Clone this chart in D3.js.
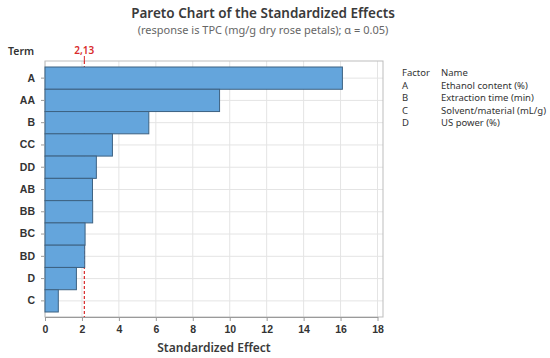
<!DOCTYPE html>
<html>
<head>
<meta charset="utf-8">
<script src="https://cdn.jsdelivr.net/npm/d3@7"></script>
<style>
  body { margin: 0; background: #fff; }
  svg { font-family: "Noto Sans", "Open Sans", sans-serif; }
</style>
</head>
<body>
<div id="chart"></div>
<script>
// Terms in Pareto order and their standardized effects
const terms = ['A', 'AA', 'B', 'CC', 'DD', 'AB', 'BB', 'BC', 'BD', 'D', 'C'];
const effects = [16.1, 9.45, 5.62, 3.65, 2.78, 2.57, 2.58, 2.17, 2.15, 1.70, 0.72];
const xTicks = [0, 2, 4, 6, 8, 10, 12, 14, 16, 18];
const critical = 2.13;
const factors = ['A', 'B', 'C', 'D'];
const factorNames = ['Ethanol content (%)', 'Extraction time (min)', 'Solvent/material (mL/g)', 'US power (%)'];

const W = 550, H = 358;
const margin = { top: 61, right: 167, bottom: 41, left: 45 };
const plotW = W - margin.left - margin.right;
const plotH = H - margin.top - margin.bottom;

const svg = d3.select('#chart').append('svg')
    .attr('width', W)
    .attr('height', H);

// Titles
svg.append('text')
    .attr('x', 263).attr('y', 18)
    .attr('text-anchor', 'middle')
    .style('font-size', '13.5px')
    .style('font-weight', '600')
    .style('fill', '#3a3a3a')
    .text('Pareto Chart of the Standardized Effects');
svg.append('text')
    .attr('x', 263).attr('y', 34)
    .attr('text-anchor', 'middle')
    .style('font-size', '11px')
    .style('fill', '#666')
    .text('(response is TPC (mg/g dry rose petals); \u03b1 = 0.05)');

const g = svg.append('g').attr('transform', `translate(${margin.left},${margin.top})`);

// x maps 0..18 onto the axis; frame extends a bit past 18
const x = d3.scaleLinear().domain([0, 18]).range([0, 332.5]);
const y = d3.scaleBand().domain(terms).range([6, plotH - 5]).padding(0);

// Grid
g.selectAll('.vgrid').data(xTicks).enter().append('line')
    .attr('x1', d => x(d)).attr('x2', d => x(d))
    .attr('y1', 0).attr('y2', plotH)
    .attr('stroke', '#e4e4e4').attr('stroke-width', 1);
g.selectAll('.hgrid').data(terms).enter().append('line')
    .attr('x1', 0).attr('x2', plotW)
    .attr('y1', d => y(d) + y.bandwidth() / 2).attr('y2', d => y(d) + y.bandwidth() / 2)
    .attr('stroke', '#e4e4e4').attr('stroke-width', 1);

// Frame
g.append('rect')
    .attr('x', 0).attr('y', 0)
    .attr('width', plotW).attr('height', plotH)
    .attr('fill', 'none')
    .attr('stroke', '#bdbdbd');

// Critical line (behind the bars)
g.append('line')
    .attr('x1', x(critical)).attr('x2', x(critical))
    .attr('y1', 0).attr('y2', plotH)
    .attr('stroke', '#d92b2b')
    .attr('stroke-width', 1.2)
    .attr('stroke-dasharray', '3,2');
g.append('line')
    .attr('x1', x(critical)).attr('x2', x(critical))
    .attr('y1', -5).attr('y2', 0)
    .attr('stroke', '#d92b2b');
g.append('text')
    .attr('x', x(critical)).attr('y', -7)
    .attr('text-anchor', 'middle')
    .style('font-size', '10px')
    .style('font-weight', '600')
    .style('fill', '#d92b2b')
    .text('2,13');

// Bars
g.selectAll('.bar').data(terms).enter().append('rect')
    .attr('x', x(0))
    .attr('y', d => y(d))
    .attr('width', (d, i) => x(effects[i]) - x(0))
    .attr('height', y.bandwidth())
    .attr('fill', '#64a5dc')
    .attr('stroke', '#3d6282')
    .attr('stroke-width', 1);

// X axis
const xAxis = g.append('g')
    .attr('transform', `translate(0,${plotH})`)
    .call(d3.axisBottom(x).tickValues(xTicks).tickSize(4).tickSizeOuter(0));
xAxis.select('.domain').attr('stroke', '#9a9a9a');
xAxis.selectAll('.tick line').attr('stroke', '#9a9a9a');
xAxis.selectAll('.tick text')
    .attr('dy', '0.9em')
    .style('font-size', '10.5px')
    .style('font-weight', '600')
    .style('fill', '#333');

// Y axis
const yAxis = g.append('g')
    .call(d3.axisLeft(y).tickSize(4).tickSizeOuter(0));
yAxis.select('.domain').remove();
yAxis.selectAll('.tick line').attr('stroke', '#9a9a9a');
yAxis.selectAll('.tick text')
    .attr('x', -10)
    .style('font-size', '10.5px')
    .style('font-weight', '600')
    .style('fill', '#333');

// Axis titles
svg.append('text')
    .attr('x', 8).attr('y', 55)
    .style('font-size', '10.5px')
    .style('font-weight', '600')
    .style('fill', '#333')
    .text('Term');
svg.append('text')
    .attr('x', 214).attr('y', 352)
    .attr('text-anchor', 'middle')
    .style('font-size', '12px')
    .style('font-weight', '600')
    .style('fill', '#3a3a3a')
    .text('Standardized Effect');

// Factor legend
const leg = svg.append('g').attr('transform', 'translate(402,76)')
    .style('font-size', '9.5px')
    .style('fill', '#333');
leg.append('text').attr('x', 0).attr('y', 0).text('Factor');
leg.append('text').attr('x', 39).attr('y', 0).text('Name');
factors.forEach((f, i) => {
    leg.append('text').attr('x', 0).attr('y', 12.5 * (i + 1)).text(f);
    leg.append('text').attr('x', 39).attr('y', 12.5 * (i + 1)).text(factorNames[i]);
});
</script>
</body>
</html>
